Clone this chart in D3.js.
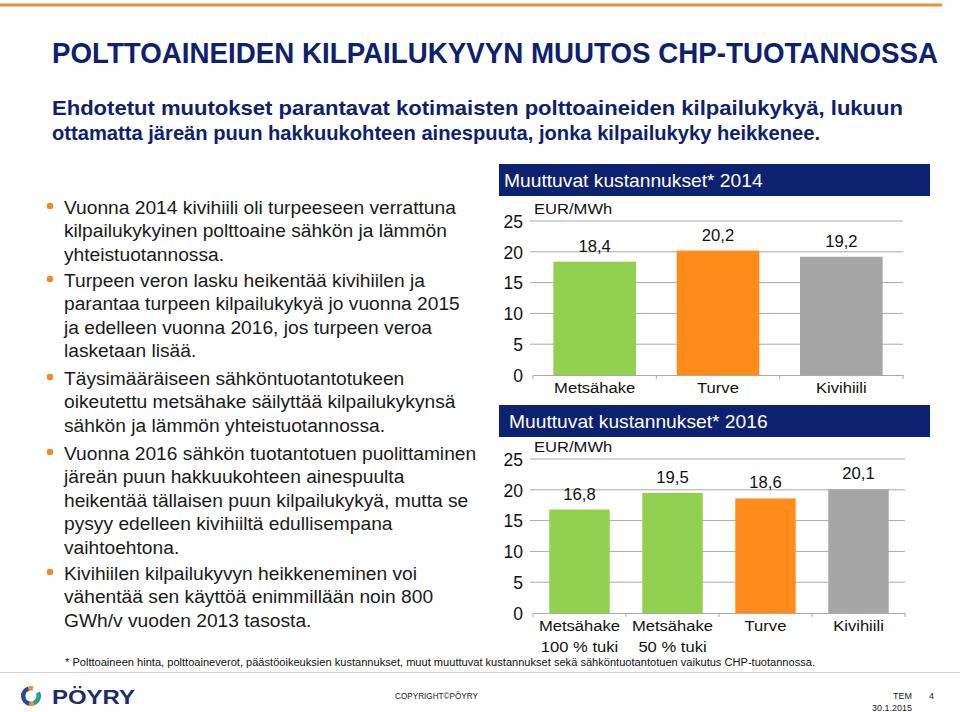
<!DOCTYPE html>
<html><head><meta charset="utf-8">
<script src="https://cdn.jsdelivr.net/npm/d3@7"></script>
<style>
html,body{margin:0;padding:0;background:#fff;}
svg{display:block;font-family:"Liberation Sans",Arial,Helvetica,sans-serif;}
</style></head>
<body>
<svg id="c" width="960" height="712"></svg>
<script>
// ---- data ----
const categories2014 = ["Metsähake", "Turve", "Kivihiili"];
const values2014 = [18.4, 20.2, 19.2];
const colors2014 = ["#92D050", "#FF8C1A", "#A6A6A6"];
const categories2016 = [["Metsähake", "100 % tuki"], ["Metsähake", "50 % tuki"], ["Turve"], ["Kivihiili"]];
const values2016 = [16.8, 19.5, 18.6, 20.1];
const colors2016 = ["#92D050", "#92D050", "#FF8C1A", "#A6A6A6"];
const yTicks = [0, 5, 10, 15, 20, 25];
const unitLabel = "EUR/MWh";
const title1 = "Muuttuvat kustannukset* 2014";
const title2 = "Muuttuvat kustannukset* 2016";
const bullets = [
  ["Vuonna 2014 kivihiili oli turpeeseen verrattuna", "kilpailukykyinen polttoaine sähkön ja lämmön", "yhteistuotannossa."],
  ["Turpeen veron lasku heikentää kivihiilen ja", "parantaa turpeen kilpailukykyä jo vuonna 2015", "ja edelleen vuonna 2016, jos turpeen veroa", "lasketaan lisää."],
  ["Täysimääräiseen sähköntuotantotukeen", "oikeutettu metsähake säilyttää kilpailukykynsä", "sähkön ja lämmön yhteistuotannossa."],
  ["Vuonna 2016 sähkön tuotantotuen puolittaminen", "järeän puun hakkuukohteen ainespuulta", "heikentää tällaisen puun kilpailukykyä, mutta se", "pysyy edelleen kivihiiltä edullisempana", "vaihtoehtona."],
  ["Kivihiilen kilpailukyvyn heikkeneminen voi", "vähentää sen käyttöä enimmillään noin 800", "GWh/v vuoden 2013 tasosta."]
];
const bulletTops = [207, 280, 378, 453, 573];

const svg = d3.select("#c");
const navy = "#0C2170";

// text helper with horizontal scaling
function stext(g, x, y, txt, size, opts = {}) {
  const sx = opts.sx || 1;
  return g.append("text")
    .attr("transform", `translate(${x},${y}) scale(${sx},1)`)
    .attr("font-size", size)
    .attr("fill", opts.fill || "#111")
    .attr("text-anchor", opts.anchor || "start")
    .attr("font-weight", opts.weight || "normal")
    .text(txt);
}

// top orange rule
svg.append("line").attr("x1", 0).attr("x2", 942).attr("y1", 5).attr("y2", 5)
  .attr("stroke", "#E8913A").attr("stroke-width", 3);

// main title (vertically stretched to mimic the condensed face)
svg.append("text").attr("transform", "translate(52,63) scale(1,1.08)")
  .attr("font-size", 27.5).attr("font-weight", "bold").attr("fill", navy)
  .attr("textLength", 886).attr("lengthAdjust", "spacingAndGlyphs")
  .text("POLTTOAINEIDEN KILPAILUKYVYN MUUTOS CHP-TUOTANNOSSA");

// subtitle
svg.append("text").attr("x", 52).attr("y", 115)
  .attr("font-size", 21).attr("font-weight", "bold").attr("fill", navy)
  .attr("textLength", 851).attr("lengthAdjust", "spacingAndGlyphs")
  .text("Ehdotetut muutokset parantavat kotimaisten polttoaineiden kilpailukykyä, lukuun");
svg.append("text").attr("x", 52).attr("y", 140)
  .attr("font-size", 21).attr("font-weight", "bold").attr("fill", navy)
  .attr("textLength", 768).attr("lengthAdjust", "spacingAndGlyphs")
  .text("ottamatta järeän puun hakkuukohteen ainespuuta, jonka kilpailukyky heikkenee.");

// bullets
bullets.forEach((lines, i) => {
  const top = bulletTops[i];
  svg.append("circle").attr("cx", 50).attr("cy", top - 1).attr("r", 3.3).attr("fill", "#F08A24");
  lines.forEach((ln, j) => {
    svg.append("text").attr("x", 64).attr("y", top + 7 + j * 23.4)
      .attr("font-size", 19.2).attr("fill", "#1a1a1a").text(ln);
  });
});

// chart drawer
function drawChart(cfg) {
  const g = svg.append("g");
  g.append("rect").attr("x", 499).attr("y", cfg.hy).attr("width", 431).attr("height", 32).attr("fill", navy);
  stext(g, cfg.tx, cfg.hy + 23, cfg.title, 18.5, { fill: "#fff", sx: 1.04 });

  const x = d3.scaleBand().domain(d3.range(cfg.values.length)).range([533, cfg.x1]).paddingInner(cfg.pad).paddingOuter(cfg.pad / 2);
  const y = d3.scaleLinear().domain([0, 25]).range([cfg.y0, cfg.y25]);

  // gridlines
  g.append("g").selectAll("line").data(yTicks.slice(1)).join("line")
    .attr("x1", 530).attr("x2", cfg.x1).attr("y1", d => y(d)).attr("y2", d => y(d))
    .attr("stroke", "#A9A9A9").attr("stroke-width", 1);

  // y axis labels
  const ya = g.append("g").attr("transform", "translate(533,0)")
    .call(d3.axisLeft(y).tickValues(yTicks).tickSize(0).tickFormat(d3.format("d")));
  ya.select(".domain").remove();
  ya.selectAll(".tick line").remove();
  ya.selectAll("text").attr("font-size", 17.5).attr("fill", "#111").attr("x", -10).attr("dy", "0.36em")
    .attr("font-family", "Liberation Sans, Arial, sans-serif");

  // bars
  g.append("g").selectAll("rect").data(cfg.values).join("rect")
    .attr("x", (d, i) => x(i)).attr("width", x.bandwidth())
    .attr("y", d => y(d)).attr("height", d => y(0) - y(d))
    .attr("fill", (d, i) => cfg.colors[i]);

  // value labels
  cfg.values.forEach((d, i) => {
    stext(g, x(i) + x.bandwidth() / 2, y(d) - 10, d.toFixed(1).replace(".", ","), 16, { anchor: "middle", sx: 1.04 });
  });

  // x axis
  const xa = g.append("g").attr("transform", `translate(0,${cfg.y0})`)
    .call(d3.axisBottom(x).tickSize(0).tickFormat(() => ""));
  xa.select(".domain").attr("stroke", "#A9A9A9");
  const step = x.step();
  const bounds = d3.range(cfg.values.length + 1).map(i => 533 + i * step);
  g.append("g").selectAll("line").data(bounds).join("line")
    .attr("x1", d => d).attr("x2", d => d).attr("y1", cfg.y0).attr("y2", cfg.y0 + 4)
    .attr("stroke", "#A9A9A9");

  // category labels
  cfg.cats.forEach((c, i) => {
    const lines = Array.isArray(c) ? c : [c];
    lines.forEach((ln, j) => {
      stext(g, x(i) + x.bandwidth() / 2, cfg.y0 + 18 + j * 21, ln, 15.5, { anchor: "middle", sx: 1.07 });
    });
  });

  stext(g, 534, cfg.y25 - 7, unitLabel, 15.5, { sx: 1.07 });
}

drawChart({ title: title1, hy: 164, tx: 504, values: values2014, colors: colors2014, cats: categories2014,
  y0: 375, y25: 221, x1: 903, pad: 0.33 });
drawChart({ title: title2, hy: 405, tx: 509, values: values2016, colors: colors2016, cats: categories2016,
  y0: 613, y25: 459, x1: 905, pad: 0.35 });

// footnote
svg.append("text").attr("x", 65).attr("y", 666).attr("font-size", 10).attr("fill", "#111")
  .attr("textLength", 750).attr("lengthAdjust", "spacingAndGlyphs")
  .text("* Polttoaineen hinta, polttoaineverot, päästöoikeuksien kustannukset, muut muuttuvat kustannukset sekä sähköntuotantotuen vaikutus CHP-tuotannossa.");

// footer rule
svg.append("rect").attr("x", 0).attr("y", 672).attr("width", 960).attr("height", 1).attr("fill", "#d4d4d4");

// logo
const lg = svg.append("g").attr("transform", "translate(31,696)");
const arc = d3.arc().innerRadius(5.5).outerRadius(10);
lg.append("path").attr("d", arc({ startAngle: -Math.PI * 0.1, endAngle: -Math.PI * 0.95 })).attr("fill", "#1F4E9A");
lg.append("path").attr("d", arc({ startAngle: Math.PI * 0.9, endAngle: Math.PI * 0.35 })).attr("fill", "#2E9E8F");
lg.append("path").attr("d", arc({ startAngle: -Math.PI * 0.1, endAngle: Math.PI * 0.08 })).attr("fill", "#F08A24");
lg.append("path").attr("d", arc({ startAngle: Math.PI * 0.9, endAngle: Math.PI * 1.08 })).attr("fill", "#F08A24");
svg.append("text").attr("x", 52).attr("y", 704).attr("font-size", 20).attr("font-weight", "bold")
  .attr("fill", "#1B2C6B").attr("textLength", 83).attr("lengthAdjust", "spacingAndGlyphs").text("PÖYRY");

svg.append("text").attr("x", 395).attr("y", 699).attr("font-size", 9).attr("fill", "#222")
  .attr("textLength", 83).attr("lengthAdjust", "spacingAndGlyphs").text("COPYRIGHT©PÖYRY");
svg.append("text").attr("x", 912).attr("y", 699).attr("font-size", 9).attr("fill", "#222").attr("text-anchor", "end").text("TEM");
svg.append("text").attr("x", 929).attr("y", 699).attr("font-size", 9).attr("fill", "#222").text("4");
svg.append("text").attr("x", 912).attr("y", 711).attr("font-size", 9).attr("fill", "#222").attr("text-anchor", "end").text("30.1.2015");
</script>
</body></html>
